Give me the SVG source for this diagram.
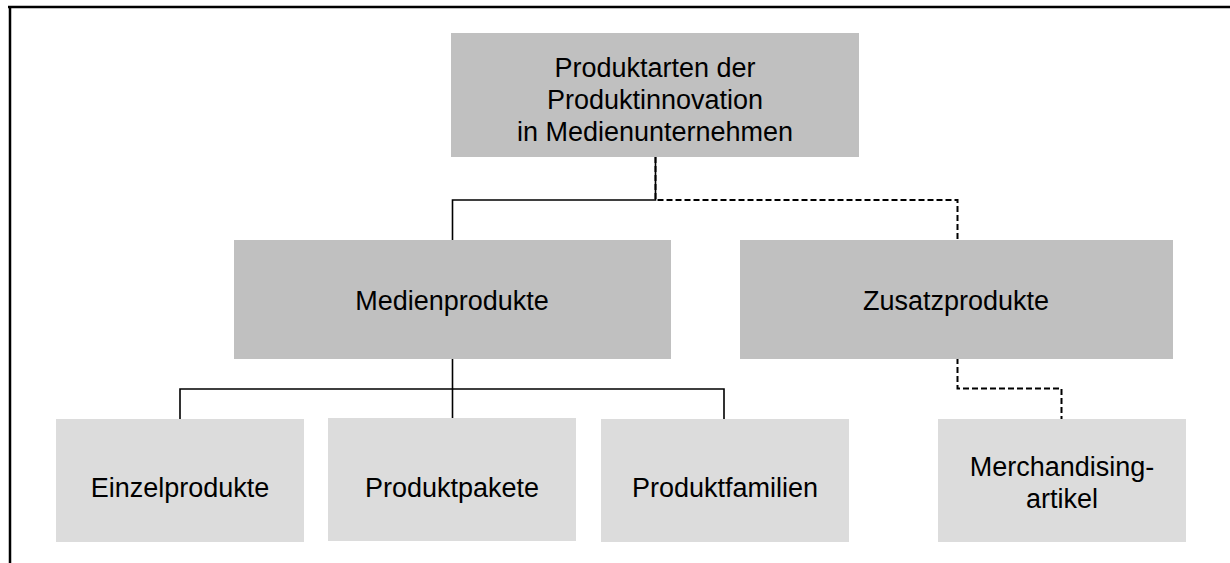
<svg xmlns="http://www.w3.org/2000/svg" width="1230" height="563" viewBox="0 0 1230 563">
<style>
.lvl1{fill:#c0c0c0}
.lvl2{fill:#dcdcdc}
text{font-family:"Liberation Sans",Arial,sans-serif;font-size:27px;fill:#000;text-anchor:middle}
.solid{fill:none;stroke:#000;stroke-width:1.6}
.dash{fill:none;stroke:#000;stroke-width:2;stroke-dasharray:6,3}
</style>
<rect width="1230" height="563" fill="#fff"/>
<g id="frame">
<line x1="8" y1="7" x2="1230" y2="7" stroke="#000" stroke-width="2.5"/>
<line x1="10" y1="7" x2="10" y2="563" stroke="#000" stroke-width="2.5"/>
</g>
<g id="connectors">
<polyline class="solid" points="655.5,157 655.5,200 452.5,200 452.5,240"/>
<polyline class="dash" points="655.5,157 655.5,200 957.5,200 957.5,240"/>
<line class="solid" x1="452.5" y1="358" x2="452.5" y2="418"/>
<polyline class="solid" points="180,419 180,389 724,389 724,419"/>
<polyline class="dash" points="957.5,358 957.5,388.5 1061.5,388.5 1061.5,419"/>
</g>
<g id="n-root">
<rect class="lvl1" x="451" y="33" width="408" height="124"/>
<text x="655" y="77">Produktarten der</text>
<text x="655" y="109">Produktinnovation</text>
<text x="655" y="141">in Medienunternehmen</text>
</g>
<g id="n-medien">
<rect class="lvl1" x="234" y="240" width="437" height="119"/>
<text x="452" y="310">Medienprodukte</text>
</g>
<g id="n-zusatz">
<rect class="lvl1" x="740" y="240" width="433" height="119"/>
<text x="956" y="310">Zusatzprodukte</text>
</g>
<g id="n-einzel">
<rect class="lvl2" x="56" y="419" width="248" height="123"/>
<text x="180" y="497">Einzelprodukte</text>
</g>
<g id="n-pakete">
<rect class="lvl2" x="328" y="418" width="248" height="123"/>
<text x="452" y="497">Produktpakete</text>
</g>
<g id="n-familien">
<rect class="lvl2" x="601" y="419" width="248" height="123"/>
<text x="725" y="497">Produktfamilien</text>
</g>
<g id="n-merch">
<rect class="lvl2" x="938" y="419" width="248" height="123"/>
<text x="1062" y="476">Merchandising-</text>
<text x="1062" y="508">artikel</text>
</g>
</svg>
